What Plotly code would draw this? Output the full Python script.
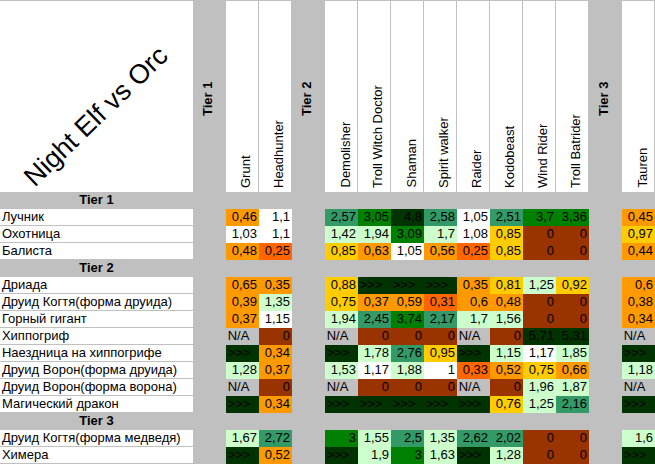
import plotly.graph_objects as go

# Orc units across the top (tier columns are grey separators)
columns = ["Tier 1", "Grunt", "Headhunter", "Tier 2", "Demolisher", "Troll Witch Doctor",
           "Shaman", "Spirit walker", "Raider", "Kodobeast", "Wind Rider", "Troll Batrider",
           "Tier 3", "Tauren"]

# Night Elf units down the side (tier rows are grey separators)
rows = ["Tier 1", "Лучник", "Охотница", "Балиста",
        "Tier 2", "Дриада", "Друид Когтя(форма друида)", "Горный гигант", "Хиппогриф",
        "Наездница на хиппогрифе", "Друид Ворон(форма друида)", "Друид Ворон(форма ворона)",
        "Магический дракон",
        "Tier 3", "Друид Когтя(форма медведя)", "Химера"]
tiers = ["Tier 1", "Tier 2", "Tier 3"]

# values per orc unit, in the order of the night elf unit rows
grunt = [0.46, 1.03, 0.48, 0.65, 0.39, 0.37, "N/A", ">>>", 1.28, "N/A", ">>>", 1.67, ">>>"]
headhunter = [1.1, 1.1, 0.25, 0.35, 1.35, 1.15, 0, 0.34, 0.37, 0, 0.34, 2.72, 0.52]
demolisher = [2.57, 1.42, 0.85, 0.88, 0.75, 1.94, "N/A", ">>>", 1.53, "N/A", ">>>", 3, ">>>"]
troll_witch_doctor = [3.05, 1.94, 0.63, ">>>", 0.37, 2.45, 0, 1.78, 1.17, 0, ">>>", 1.55, 1.9]
shaman = [4.8, 3.09, 1.05, ">>>", 0.59, 3.74, 0, 2.76, 1.88, 0, ">>>", 2.5, 3]
spirit_walker = [2.58, 1.7, 0.56, ">>>", 0.31, 2.17, 0, 0.95, 1, 0, ">>>", 1.35, 1.63]
raider = [1.05, 1.08, 0.25, 0.35, 0.6, 1.7, "N/A", ">>>", 0.33, "N/A", ">>>", 2.62, ">>>"]
kodobeast = [2.51, 0.85, 0.85, 0.81, 0.48, 1.56, 0, 1.15, 0.52, 0, 0.76, 2.02, 1.28]
wind_rider = [3.7, 0, 0, 1.25, 0, 0, 5.71, 1.17, 0.75, 1.96, 1.25, 0, 0]
troll_batrider = [3.36, 0, 0, 0.92, 0, 0, 5.31, 1.85, 0.66, 1.87, 2.16, 0, 0]
tauren = [0.45, 0.97, 0.44, 0.6, 0.38, 0.34, "N/A", ">>>", 1.18, "N/A", ">>>", 1.6, ">>>"]

values = {"Grunt": grunt, "Headhunter": headhunter, "Demolisher": demolisher,
          "Troll Witch Doctor": troll_witch_doctor, "Shaman": shaman,
          "Spirit walker": spirit_walker, "Raider": raider, "Kodobeast": kodobeast,
          "Wind Rider": wind_rider, "Troll Batrider": troll_batrider, "Tauren": tauren}

# colour bands (excel palette)
GRAY = "#C0C0C0"
band_colors = [GRAY, "#993300", "#FF6600", "#FF9900", "#FFCC00", "#FFFFFF",
               "#CCFFCC", "#339966", "#008000", "#003300"]
# one cell coloured differently from its value
overrides = {("Наездница на хиппогрифе", "Kodobeast"): 6}


def band(v):
    if v == "N/A":
        return 0
    if v == ">>>":
        return 9
    if v == 0:
        return 1
    if v < 0.34:
        return 2
    if v < 0.7:
        return 3
    if v < 1:
        return 4
    if v <= 1.17:
        return 5
    if v < 2:
        return 6
    if v < 3:
        return 7
    if v < 4:
        return 8
    return 9


def fmt(v):
    return f"{v:g}".replace(".", ",")


n = len(band_colors)
colorscale = []
for i, c in enumerate(band_colors):
    colorscale += [[i / n, c], [(i + 1) / n, c]]

unit_rows = [r for r in rows if r not in tiers]

z = []
num_x, num_y, num_t = [], [], []
tag_x, tag_y, tag_t = [], [], []
for ri, r in enumerate(rows):
    line = []
    for ci, c in enumerate(columns):
        if r in tiers or c in tiers:
            line.append(None)
            continue
        v = values[c][unit_rows.index(r)]
        line.append(overrides.get((r, c), band(v)))
        if isinstance(v, str):
            tag_x.append(ci - 0.45)
            tag_y.append(ri)
            tag_t.append(v)
        else:
            num_x.append(ci + 0.44)
            num_y.append(ri)
            num_t.append(fmt(v))
    z.append(line)

FONT = "Liberation Sans, Arial, sans-serif"
fig = go.Figure()

# header strip: white for units, grey for tier columns
fig.add_trace(go.Heatmap(z=[[None if c in tiers else 5 for c in columns]],
                         x=list(range(len(columns))), y=[0], xaxis="x", yaxis="y2",
                         colorscale=colorscale, zmin=0, zmax=n, showscale=False,
                         xgap=1, hoverinfo="skip"))
fig.add_trace(go.Heatmap(z=[[5]], x=[0], y=[0], xaxis="x2", yaxis="y2",
                         colorscale=colorscale, zmin=0, zmax=n, showscale=False,
                         hoverinfo="skip"))
# label column
fig.add_trace(go.Heatmap(z=[[None] if r in tiers else [5] for r in rows],
                         x=[0], y=list(range(len(rows))), xaxis="x2", yaxis="y",
                         colorscale=colorscale, zmin=0, zmax=n, showscale=False,
                         ygap=1, hoverinfo="skip"))
# the table itself
fig.add_trace(go.Heatmap(z=z, x=list(range(len(columns))), y=list(range(len(rows))),
                         colorscale=colorscale, zmin=0, zmax=n, showscale=False,
                         hoverinfo="skip"))

fig.add_trace(go.Scatter(x=num_x, y=num_y, text=num_t, mode="text",
                         textposition="middle left", hoverinfo="skip",
                         textfont=dict(family=FONT, size=13, color="black")))
fig.add_trace(go.Scatter(x=tag_x, y=tag_y, text=tag_t, mode="text",
                         textposition="middle right", hoverinfo="skip",
                         textfont=dict(family=FONT, size=13, color="black")))

# row labels
fig.add_trace(go.Scatter(x=[-0.49 for r in rows if r not in tiers],
                         y=[i for i, r in enumerate(rows) if r not in tiers],
                         text=[r for r in rows if r not in tiers],
                         mode="text", textposition="middle right", xaxis="x2", yaxis="y",
                         hoverinfo="skip", textfont=dict(family=FONT, size=13, color="black")))
fig.add_trace(go.Scatter(x=[0 for r in rows if r in tiers],
                         y=[i for i, r in enumerate(rows) if r in tiers],
                         text=[f"<b>{r}</b>" for r in rows if r in tiers],
                         mode="text", textposition="middle center", xaxis="x2", yaxis="y",
                         hoverinfo="skip", textfont=dict(family=FONT, size=13, color="black")))

annotations = []
for ci, c in enumerate(columns):
    if c in tiers:
        annotations.append(dict(x=ci, y=0, xref="x", yref="y2", text=f"<b>{c}</b>",
                                textangle=-90, xanchor="center", yanchor="middle",
                                xshift=-2, yshift=-3, showarrow=False,
                                font=dict(family=FONT, size=13, color="black")))
    else:
        annotations.append(dict(x=ci, y=-0.5, xref="x", yref="y2", text=c,
                                textangle=-90, xanchor="center", yanchor="bottom",
                                xshift=3, yshift=2, showarrow=False,
                                font=dict(family=FONT, size=13, color="black")))
annotations.append(dict(x=96 / 655, y=1 - 116 / 464, xref="paper", yref="paper",
                        text="Night Elf vs Orc", textangle=-44, showarrow=False,
                        xanchor="center", yanchor="middle",
                        font=dict(family=FONT, size=27, color="black")))

top = 1 - 192 / 464
fig.update_layout(
    width=655, height=464, margin=dict(l=0, r=0, t=0, b=0),
    paper_bgcolor=GRAY, plot_bgcolor=GRAY, showlegend=False,
    font=dict(family=FONT, size=13, color="black"),
    xaxis=dict(domain=[193 / 655, 1], range=[-0.5, 13.5], visible=False, anchor="y"),
    xaxis2=dict(domain=[0, 193 / 655], range=[-0.5, 0.5], visible=False, anchor="y"),
    yaxis=dict(domain=[0, top], range=[15.5, -0.5], visible=False, anchor="x"),
    yaxis2=dict(domain=[top, 1 - 1 / 464], range=[-0.5, 0.5], visible=False, anchor="x"),
    annotations=annotations,
)

# drop the page's default body margin so the sheet starts at the window corner
fig.write_html("out.html", config={"displayModeBar": False},
               post_script="document.body.style.margin='0';document.body.style.overflow='hidden';")
